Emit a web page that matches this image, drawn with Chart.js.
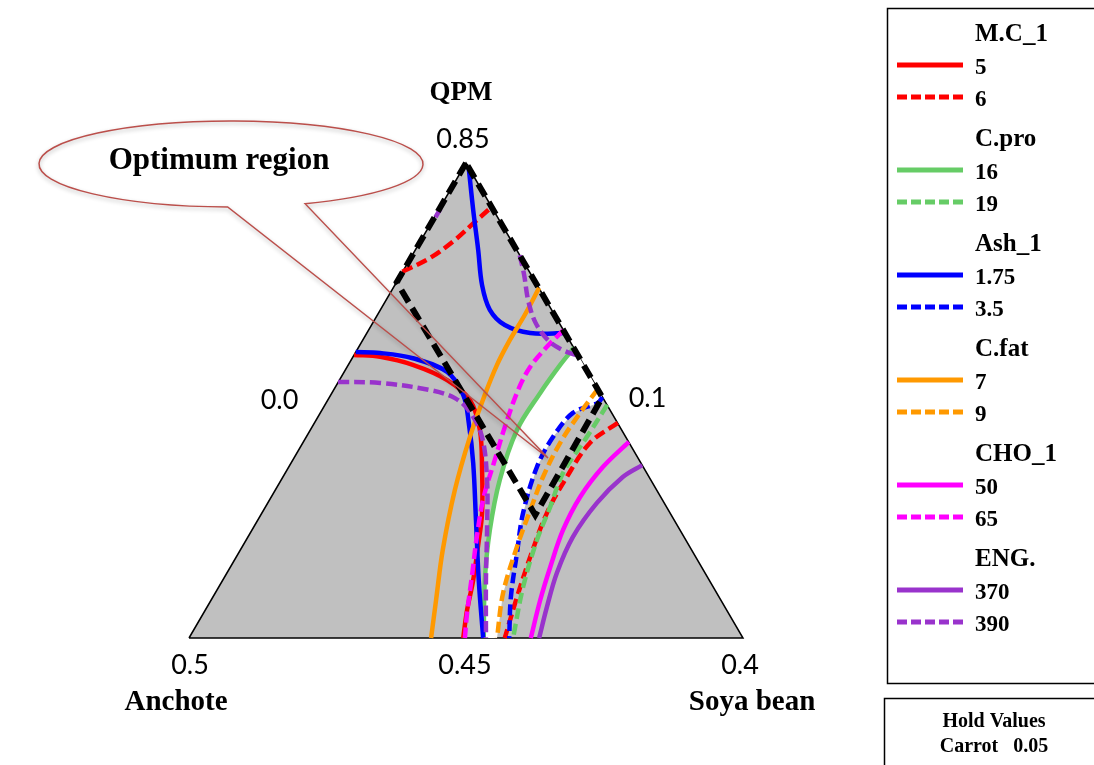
<!DOCTYPE html>
<html>
<head>
<meta charset="utf-8">
<title>Overlaid contour plot</title>
<script src="https://cdn.jsdelivr.net/npm/chart.js@4.4.1/dist/chart.umd.min.js"></script>
<style>
  body { margin: 0; background: #fff; }
  canvas { display: block; }
</style>
</head>
<body>
<canvas id="contourPlot" width="1094" height="765"></canvas>
<script>
// Mixture region, in percent of the simplex: base 0..100, height 0..100
const simplex = [[0, 0], [100, 0], [50, 100], [0, 0]];

// Responses and the two contour levels drawn for each one
const responses = ["M.C_1", "C.pro", "Ash_1", "C.fat", "CHO_1", "ENG."];
const lowLevels = ["5", "16", "1.75", "7", "50", "370"];
const highLevels = ["6", "19", "3.5", "9", "65", "390"];

// Component labels and their ticks
const components = ["QPM", "Anchote", "Soya bean"];
const cornerTicks = ["0.85", "0.5", "0.4"];
const sideTicks = ["0.0", "0.1", "0.45"];
const holdComponent = "Carrot";
const holdValue = "0.05";

// Contour lines, [x, y] pairs
const mc5 = [[29.8, 59.6], [34.5, 59.2], [40.4, 57.5], [46.6, 54.3], [50.7, 50.1], [52.5, 43.8],
  [52.9, 35.4], [52.9, 26.3], [52.2, 19.6], [51.3, 12.2], [50.2, 5.9], [49.5, 0]];
const mc6Top = [[38.5, 77.1], [43.5, 80.0], [48.0, 83.8], [51.6, 87.6], [54.6, 90.7]];
const mc6Right = [[77.4, 45.3], [72.4, 41.1], [68.2, 33.9], [64.6, 26.3], [61.6, 17.1], [59.2, 8.6], [57.0, 0]];
const pro16 = [[69.5, 61.1], [67.0, 57.5], [63.4, 51.6], [59.2, 43.8], [56.1, 33.3], [54.3, 22.7], [53.4, 12.2], [53.2, 0]];
const pro19 = [[75.5, 49.1], [71.8, 42.3], [67.5, 34.7], [65.2, 27.6], [62.8, 20.6], [60.3, 10.7], [58.5, 0]];
const ash175Left = [[30.1, 60.2], [34.5, 60.0], [40.4, 58.9], [46.6, 56.0], [49.5, 51.2], [50.5, 45.3],
  [51.3, 36.8], [51.8, 24.8], [52.3, 12.2], [53.1, 0]];
const ash175Top = [[50.5, 98.9], [51.3, 90.1], [52.2, 81.7], [52.9, 74.3], [54.3, 69.1], [57.0, 65.9], [61.6, 64.2], [67.9, 64.2]];
const ash35 = [[74.6, 50.7], [73.8, 49.5], [69.3, 47.4], [65.7, 42.3], [62.8, 36.0], [60.3, 26.3], [59.2, 17.9], [58.1, 8.6], [57.8, 0]];
const fat7 = [[63.2, 73.7], [60.6, 68.0], [57.9, 62.7], [55.6, 57.5], [53.4, 51.2], [50.7, 42.3], [48.0, 31.2],
  [45.8, 18.5], [44.6, 8.0], [43.7, 0]];
const fat9 = [[73.8, 52.4], [70.6, 47.4], [67.0, 41.1], [63.9, 33.9], [61.6, 26.9], [59.2, 19.2], [56.7, 9.5], [55.6, 0]];
const cho50 = [[79.4, 41.3], [74.7, 36.0], [70.6, 29.7], [67.5, 22.7], [65.2, 14.9], [63.4, 8.0], [61.7, 0]];
const cho65 = [[67.6, 64.8], [64.6, 61.3], [61.6, 57.1], [59.4, 52.2], [57.0, 44.4], [55.2, 37.5], [53.2, 29.7],
  [52.0, 21.7], [51.1, 13.3], [50.2, 5.3], [49.8, 0]];
const eng370 = [[81.8, 36.4], [78.3, 33.9], [73.6, 28.4], [69.3, 21.3], [66.4, 13.7], [64.6, 6.5], [63.2, 0]];
const eng390Top = [[59.7, 80.6], [60.5, 76.4], [61.2, 71.2], [62.5, 66.5], [64.8, 62.7], [67.5, 60.6], [70.3, 59.4]];
const eng390Left = [[26.9, 53.9], [34.5, 53.7], [43.5, 52.2], [48.0, 50.5], [50.7, 47.6], [52.9, 42.3],
  [53.8, 33.3], [53.8, 22.7], [53.6, 12.2], [53.6, 0]];
const eng390Apex = [[45.4, 90.4], [44.5, 88.6]];

// Region meeting every constraint, and the outlined optimum
const feasible = [[69.5, 61.1], [67.0, 57.5], [63.4, 51.6], [59.2, 43.8], [56.1, 33.3], [54.3, 22.7], [53.4, 12.2],
  [53.2, 0], [55.6, 0], [56.7, 9.5], [59.2, 18.5], [60.3, 26.3], [62.8, 36.0], [65.7, 42.3], [69.3, 47.4],
  [73.8, 49.5], [74.6, 50.7], [69.5, 61.1]];
const optimum = [[50, 100], [37.5, 74.9], [62.5, 25.9], [74.6, 50.7], [50, 100]];
const calloutTip = [64.8, 37.9];

// which response / level each path belongs to (level 0 = low, 1 = high)
const contourPaths = [
  [0, 0, mc5], [0, 1, mc6Top], [0, 1, mc6Right],
  [1, 0, pro16], [1, 1, pro19],
  [2, 0, ash175Left], [2, 0, ash175Top], [2, 1, ash35],
  [3, 0, fat7], [3, 1, fat9],
  [4, 0, cho50], [4, 1, cho65],
  [5, 0, eng370], [5, 1, eng390Top], [5, 1, eng390Left], [5, 1, eng390Apex],
];

const colours = ["#ff0000", "#66cc66", "#0000ff", "#ff9900", "#ff00ff", "#9933cc"];
const serif = "'Liberation Serif', 'Times New Roman', serif";
const sans = "Lato, 'Open Sans', sans-serif";
const dash = [11, 5];

const toPoints = (path) => path.map(([x, y]) => ({ x, y }));

const datasets = [
  {
    data: toPoints(simplex),
    backgroundColor: "#c0c0c0",
    borderColor: "#000",
    borderWidth: 1.5,
    fill: "shape",
    order: 100,
  },
  {
    data: toPoints(feasible),
    backgroundColor: "#fff",
    borderWidth: 0,
    fill: "shape",
    order: 90,
  },
];

contourPaths.forEach(([group, level, path], i) => {
  datasets.push({
    data: toPoints(path),
    borderColor: colours[group],
    borderWidth: 4.5,
    borderDash: level ? dash : [],
    tension: 0.35,
    fill: false,
    order: 50 - i,
  });
});

datasets.push({
  data: toPoints(optimum),
  borderColor: "#000",
  borderWidth: 6,
  borderDash: [14, 7],
  fill: false,
  order: 1,
});

// callout, labels and legend boxes
const decorations = {
  id: "decorations",
  afterDraw(chart) {
    const { ctx } = chart;
    const sx = chart.scales.x, sy = chart.scales.y;
    const px = (x, y) => [sx.getPixelForValue(x), sy.getPixelForValue(y)];

    // speech bubble pointing into the optimum region
    const cx = 231, cy = 164, rx = 192, ry = 43;
    const a0 = 91 * Math.PI / 180, a1 = 67.3 * Math.PI / 180;
    const [tx, ty] = px(calloutTip[0], calloutTip[1]);
    ctx.save();
    ctx.beginPath();
    ctx.ellipse(cx, cy, rx, ry, 0, 0, Math.PI * 2);
    ctx.fillStyle = "#fff";
    ctx.fill();
    ctx.beginPath();
    ctx.ellipse(cx, cy, rx, ry, 0, a0, a1 + Math.PI * 2);
    ctx.lineTo(tx, ty);
    ctx.closePath();
    ctx.shadowColor = "rgba(0,0,0,0.3)";
    ctx.shadowBlur = 4;
    ctx.shadowOffsetY = 2;
    ctx.strokeStyle = "#bb4f4b";
    ctx.lineWidth = 1.5;
    ctx.stroke();
    ctx.restore();

    ctx.save();
    ctx.fillStyle = "#000";
    ctx.textAlign = "center";
    ctx.textBaseline = "middle";
    ctx.font = "bold 31px " + serif;
    ctx.fillText("Optimum region", 219, 161);

    // vertices and side ticks
    const [ax, ay] = px(50, 100);
    const [lx, ly] = px(0, 0);
    const [rxp, ryp] = px(100, 0);
    const [mx] = px(50, 0);
    const [lmx, lmy] = px(25, 50);
    const [rmx, rmy] = px(75, 50);

    ctx.font = "bold 27px " + serif;
    ctx.fillText(components[0], ax - 5, ay - 70);
    ctx.font = "bold 29px " + serif;
    ctx.fillText(components[1], lx - 13, ly + 65);
    ctx.fillText(components[2], rxp + 9, ryp + 65);

    ctx.font = "27px " + sans;
    ctx.fillText(cornerTicks[0], ax - 3, ay - 24);
    ctx.fillText(cornerTicks[1], lx + 1, ly + 27);
    ctx.fillText(cornerTicks[2], rxp - 3, ryp + 27);
    ctx.fillText(sideTicks[0], lmx - 48, lmy);
    ctx.fillText(sideTicks[1], rmx + 43, rmy - 2);
    ctx.fillText(sideTicks[2], mx - 1, ly + 27);

    // legend
    ctx.strokeStyle = "#000";
    ctx.lineWidth = 1.5;
    ctx.strokeRect(887.5, 8.5, 220, 675);
    ctx.strokeRect(884.5, 698.5, 220, 80);

    ctx.textAlign = "left";
    responses.forEach((name, i) => {
      const y0 = 35 + i * 105;
      ctx.font = "bold 25px " + serif;
      ctx.fillStyle = "#000";
      ctx.fillText(name, 975, y0);
      [lowLevels[i], highLevels[i]].forEach((label, k) => {
        const ly2 = y0 + 30 + k * 32;
        ctx.save();
        ctx.strokeStyle = colours[i];
        ctx.lineWidth = 5;
        ctx.setLineDash(k ? [10, 4] : []);
        ctx.beginPath();
        ctx.moveTo(897, ly2);
        ctx.lineTo(963, ly2);
        ctx.stroke();
        ctx.restore();
        ctx.font = "bold 23px " + serif;
        ctx.fillText(label, 975, ly2 + 3);
      });
    });

    ctx.textAlign = "center";
    ctx.font = "bold 20px " + serif;
    ctx.fillText("Hold Values", 994, 722);
    ctx.fillText(holdComponent + "   " + holdValue, 994, 747);
    ctx.restore();
  },
};

new Chart(document.getElementById("contourPlot"), {
  type: "line",
  data: { datasets },
  options: {
    responsive: false,
    animation: false,
    layout: { padding: { left: 189, right: 351, top: 163, bottom: 127 } },
    elements: { point: { radius: 0, hoverRadius: 0 } },
    datasets: { line: { clip: false } },
    scales: {
      x: { type: "linear", min: 0, max: 100, display: false },
      y: { type: "linear", min: 0, max: 100, display: false },
    },
    plugins: {
      legend: { display: false },
      tooltip: { enabled: false },
    },
  },
  plugins: [decorations],
});
</script>
</body>
</html>
